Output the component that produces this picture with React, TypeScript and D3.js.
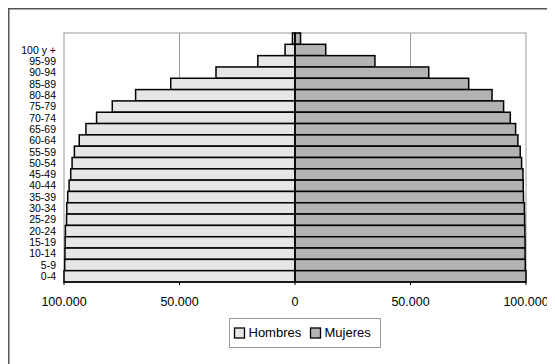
import React from "react";
import * as d3 from "d3";

// categories from top to bottom (top row has no label)
const categories = ["", "100 y +", "95-99", "90-94", "85-89", "80-84", "75-79", "70-74", "65-69", "60-64", "55-59", "50-54", "45-49", "40-44", "35-39", "30-34", "25-29", "20-24", "15-19", "10-14", "5-9", "0-4"];
const hombres = [1100, 4300, 16100, 34200, 53800, 69000, 79100, 85900, 90500, 93400, 95500, 96500, 97100, 97800, 98400, 98800, 98900, 99400, 99500, 99600, 99700, 100000];
const mujeres = [2400, 13300, 34600, 57900, 75200, 85300, 90300, 93200, 95500, 96500, 97500, 98100, 98700, 98800, 98900, 99300, 99400, 99500, 99600, 99600, 99700, 100000];
const tickValues = [-100000, -50000, 0, 50000, 100000];
const tickLabels = ["100.000", "50.000", "0", "50.000", "100.000"];
const seriesNames = ["Hombres", "Mujeres"];

const FONT = "'Liberation Sans', Arial, sans-serif";

export default function App() {
  const left = 64, right = 526, top = 33, bottom = 282;
  const x = d3.scaleLinear().domain([-100000, 100000]).range([left, right]);
  const y = d3.scaleBand<string>().domain(categories).range([top, bottom]).padding(0);
  const cx = x(0);
  const colors = ["#e6e6e6", "#b3b3b3"];

  return (
    <svg width={547} height={356} style={{ display: "block" }}>
      <g transform="translate(-8,-8)">
        {/* outer frame (extends beyond the window) */}
        <rect x={8.75} y={8.75} width={700} height={500} fill="#fff" stroke="#555" strokeWidth={1.5} />
        {/* plot area */}
        <rect x={left} y={top} width={right - left} height={bottom - top} fill="#fff" stroke="#999" strokeWidth={1} />
        {/* gridlines */}
        {tickValues.filter(v => v !== 0 && Math.abs(v) !== 100000).map((v, i) => (
          <line key={"g" + i} x1={x(v)} x2={x(v)} y1={top} y2={bottom} stroke="#999" strokeWidth={1} />
        ))}
        {/* bars */}
        {categories.map((c, i) => (
          <g key={"b" + i}>
            <rect x={x(-hombres[i])} y={y(c)!} width={cx - x(-hombres[i])} height={y.bandwidth()} fill={colors[0]} stroke="#000" strokeWidth={1.5} />
            <rect x={cx} y={y(c)!} width={x(mujeres[i]) - cx} height={y.bandwidth()} fill={colors[1]} stroke="#000" strokeWidth={1.5} />
          </g>
        ))}
        {/* category axis line */}
        <line x1={cx} x2={cx} y1={top} y2={bottom} stroke="#000" strokeWidth={1.2} />
        {/* value axis */}
        <line x1={left} x2={right} y1={bottom} y2={bottom} stroke="#000" strokeWidth={1} />
        {tickValues.map((v, i) => (
          <g key={"t" + i}>
            <line x1={x(v)} x2={x(v)} y1={bottom} y2={bottom + 3} stroke="#000" strokeWidth={1} />
            <text x={x(v)} y={306} textAnchor="middle" fontFamily={FONT} fontSize={12.5} fill="#000">{tickLabels[i]}</text>
          </g>
        ))}
        {/* category labels */}
        {categories.map((c, i) => (
          <text key={"l" + i} x={56} y={y(c)! + y.bandwidth() / 2 + 3.7} textAnchor="end" fontFamily={FONT} fontSize={10.5} fill="#000">{c}</text>
        ))}
        {/* legend */}
        <rect x={229.5} y={318.5} width={151} height={29} fill="#fff" stroke="#999" strokeWidth={1} />
        {seriesNames.map((s, i) => {
          const sx = i === 0 ? 234.5 : 310.5;
          return (
            <g key={"lg" + i}>
              <rect x={sx} y={328} width={10} height={10} fill={colors[i]} stroke="#000" strokeWidth={1.3} />
              <text x={sx + 14} y={337} fontFamily={FONT} fontSize={13} fill="#000">{s}</text>
            </g>
          );
        })}
      </g>
    </svg>
  );
}
